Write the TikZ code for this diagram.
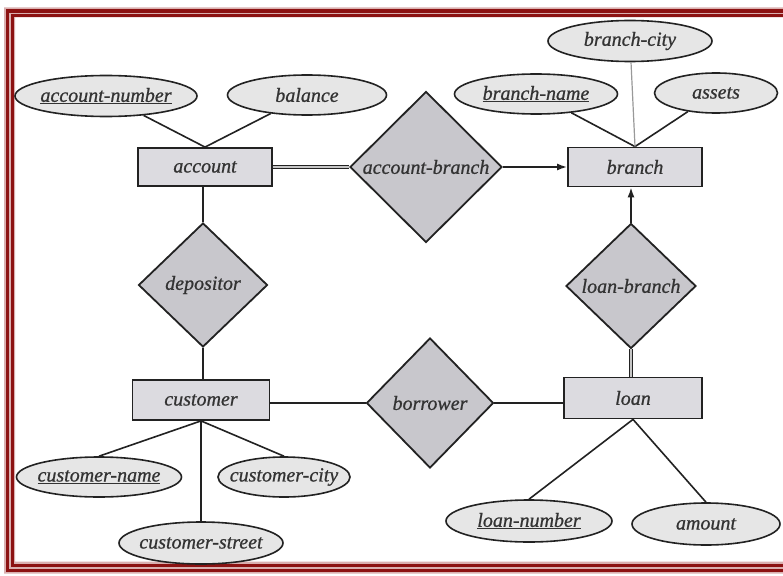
\documentclass[tikz,border=0pt]{standalone}
\usepackage{fontspec}
\usetikzlibrary{shapes.geometric,arrows.meta}
\newfontfamily\erfont{Liberation Serif}[FakeBold=0.8]
\definecolor{entfill}{HTML}{DCDBE0}
\definecolor{relfill}{HTML}{C8C7CC}
\definecolor{attrfill}{HTML}{E6E6E6}
\definecolor{inkcol}{HTML}{333333}
\definecolor{edgecol}{HTML}{222222}
\definecolor{framered}{HTML}{8C1212}
\definecolor{framepink}{HTML}{D9B0B0}
\tikzset{
  every node/.style={font=\erfont\fontsize{20}{22}\selectfont\itshape, text=inkcol, inner sep=0pt},
  entity/.style={rectangle, draw=edgecol, line width=1.8pt, fill=entfill},
  relation/.style={diamond, draw=edgecol, line width=1.8pt, fill=relfill},
  attribute/.style={ellipse, draw=edgecol, line width=1.6pt, fill=attrfill},
  link/.style={draw=edgecol, line width=1.6pt},
  thinlink/.style={draw=gray!80, line width=1.2pt},
  total/.style={draw=edgecol, line width=1.2pt, double=gray!45, double distance=2.2pt},
  arrowlink/.style={link, -{Latex[length=10pt,width=7pt]}},
}
\newcommand{\txt}[1]{\makebox[0pt]{#1}}
\begin{document}
\begin{tikzpicture}[x=1pt,y=-1pt]
\useasboundingbox (0,0) rectangle (783,575);
\fill[white] (0,0) rectangle (783,575);
% frame
\fill[framepink, even odd rule] (4,7.3) rectangle (800,573.5) (15,17.5) rectangle (810,561.5);
\draw[framered, line width=3.3pt] (7.7,11) rectangle (795,570.7);
\draw[framered, line width=2.8pt] (12.3,15.3) rectangle (790,565.7);

% entities
\node[entity, minimum width=134pt, minimum height=38pt] (account) at (205,167) {\txt{account}};
\node[entity, minimum width=134pt, minimum height=39pt] (branch) at (635,167) {\txt{branch}};
\node[entity, minimum width=137pt, minimum height=40pt] (customer) at (201,400) {\txt{customer}};
\node[entity, minimum width=138pt, minimum height=41pt] (loan) at (633,398) {\txt{loan}};

% relationships
\node[relation, minimum width=152pt, minimum height=151pt] (ab) at (426,167) {\txt{account-branch}};
\node[relation, minimum width=129pt, minimum height=124pt] (dep) at (203,285) {\txt{depositor}};
\node[relation, minimum width=130pt, minimum height=125pt] (lb) at (631,286) {\txt{loan-branch}};
\node[relation, minimum width=127pt, minimum height=130pt] (bor) at (430,403) {\txt{borrower}};

% attributes
\node[attribute, minimum width=182pt, minimum height=41pt] (acctnum) at (106,96) {\txt{\underline{account-number}}};
\node[attribute, minimum width=159pt, minimum height=40pt] (balance) at (307,95) {\txt{balance}};
\node[attribute, minimum width=163pt, minimum height=40pt] (bname) at (536,94) {\txt{\underline{branch-name}}};
\node[attribute, minimum width=164pt, minimum height=41pt] (bcity) at (630,41) {\txt{branch-city}};
\node[attribute, minimum width=123pt, minimum height=40pt] (assets) at (716,93) {\txt{assets}};
\node[attribute, minimum width=165pt, minimum height=40pt] (cname) at (99,477) {\txt{\underline{customer-name}}};
\node[attribute, minimum width=132pt, minimum height=40pt] (ccity) at (284,477) {\txt{customer-city}};
\node[attribute, minimum width=164pt, minimum height=42pt] (cstreet) at (201,543) {\txt{customer-street}};
\node[attribute, minimum width=166pt, minimum height=42pt] (lnum) at (529,521) {\txt{\underline{loan-number}}};
\node[attribute, minimum width=148pt, minimum height=42pt] (amount) at (706,524) {\txt{amount}};

% attribute links
\path[link] (acctnum) -- (account.north);
\path[link] (balance) -- (account.north);
\path[link] (bname) -- (branch.north);
\path[link] (assets) -- (branch.north);
\path[thinlink] (bcity) -- (branch.north);
\path[link] (cname.north) -- (customer.south);
\path[link] (ccity.north) -- (customer.south);
\path[link] (cstreet) -- (customer.south);
\path[link] (lnum.north) -- (loan.south);
\path[link] (amount.north) -- (loan.south);

% relationship links
\draw[total] (account.east) -- (ab.west);
\draw[arrowlink] (ab.east) -- (ab.east -| branch.west);
\path[link] (dep.north) -- (dep.north |- account.south);
\path[link] (dep.south) -- (dep.south |- customer.north);
\draw[arrowlink] (lb.north) -- (lb.north |- branch.south);
\draw[total] (lb.south) -- (lb.south |- loan.north);
\path[link] (bor.west) -- (bor.west -| customer.east);
\path[link] (bor.east) -- (bor.east -| loan.west);
\end{tikzpicture}
\end{document}
